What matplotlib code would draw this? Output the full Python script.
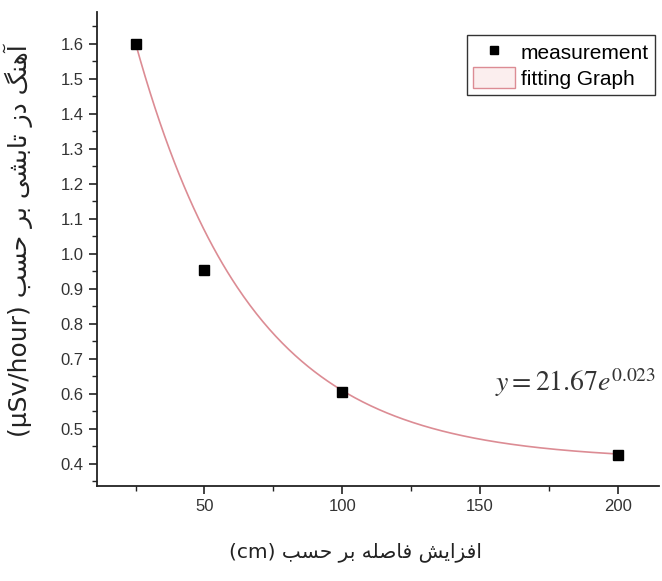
import numpy as np
import matplotlib
matplotlib.use("Agg")
import matplotlib.pyplot as plt
from matplotlib.lines import Line2D
from matplotlib.patches import Patch
from matplotlib.ticker import MultipleLocator

# measured points
distance = [25, 50, 100, 200]
dose_rate = [1.60, 0.955, 0.606, 0.426]

# fitted curve y = y0 + A*exp(-x/t)
fit_y0 = 0.41
fit_A = 2.16
fit_t = 42.0

x_title = "افزایش فاصله بر حسب"
y_title = "آهنگ دز تابشی بر حسب"
x_unit = "(cm)"
y_unit = "(µSv/hour)"
eq_text = r"$y = 21.67e^{0.023}$"

# simple arabic/persian shaping (matplotlib has no bidi)
FORMS = {
    "ا": ("\uFE8D", "\uFE8E", None, None),
    "آ": ("\uFE81", "\uFE82", None, None),
    "د": ("\uFEA9", "\uFEAA", None, None),
    "ر": ("\uFEAD", "\uFEAE", None, None),
    "ز": ("\uFEAF", "\uFEB0", None, None),
    "ب": ("\uFE8F", "\uFE90", "\uFE91", "\uFE92"),
    "ت": ("\uFE95", "\uFE96", "\uFE97", "\uFE98"),
    "ح": ("\uFEA1", "\uFEA2", "\uFEA3", "\uFEA4"),
    "س": ("\uFEB1", "\uFEB2", "\uFEB3", "\uFEB4"),
    "ش": ("\uFEB5", "\uFEB6", "\uFEB7", "\uFEB8"),
    "ص": ("\uFEB9", "\uFEBA", "\uFEBB", "\uFEBC"),
    "ف": ("\uFED1", "\uFED2", "\uFED3", "\uFED4"),
    "ل": ("\uFEDD", "\uFEDE", "\uFEDF", "\uFEE0"),
    "ن": ("\uFEE5", "\uFEE6", "\uFEE7", "\uFEE8"),
    "ه": ("\uFEE9", "\uFEEA", "\uFEEB", "\uFEEC"),
    "ی": ("\uFBFC", "\uFBFD", "\uFBFE", "\uFBFF"),
    "گ": ("\uFB92", "\uFB93", "\uFB94", "\uFB95"),
}


def dual(ch):
    return ch in FORMS and FORMS[ch][2] is not None


def rtl(text):
    out = []
    for i, ch in enumerate(text):
        if ch not in FORMS:
            out.append(ch)
            continue
        prev = text[i - 1] if i > 0 else ""
        nxt = text[i + 1] if i + 1 < len(text) else ""
        jp = dual(prev)
        jn = dual(ch) and nxt in FORMS
        iso, fin, ini, med = FORMS[ch]
        if jp and jn:
            out.append(med)
        elif jp:
            out.append(fin)
        elif jn:
            out.append(ini)
        else:
            out.append(iso)
    return "".join(out)[::-1]


plt.rcParams["font.family"] = ["Liberation Sans", "DejaVu Sans"]
plt.rcParams["mathtext.fontset"] = "stix"

fig = plt.figure(figsize=(6.62, 5.81), dpi=100)
ax = fig.add_axes([0.1465, 0.1635, 0.849, 0.8155])

xx = np.linspace(distance[0], distance[-1], 300)
yy = fit_y0 + fit_A * np.exp(-xx / fit_t)
ax.plot(xx, yy, color="#dc8c94", lw=1.2, zorder=2)
ax.plot(distance, dose_rate, "s", color="black", ms=7, zorder=3)

ax.set_xlim(11, 215)
ax.set_xticks([50, 100, 150, 200])
ax.xaxis.set_minor_locator(MultipleLocator(25))
ax.yaxis.set_minor_locator(MultipleLocator(0.05))
ax.set_yticks(np.arange(0.4, 1.61, 0.1))
ax.set_ylim(0.337, 1.69)
ax.yaxis.set_major_formatter(plt.FuncFormatter(lambda v, p: f"{v:.1f}"))

for s in ["top", "right"]:
    ax.spines[s].set_visible(False)
for s in ["left", "bottom"]:
    ax.spines[s].set_linewidth(1.3)
    ax.spines[s].set_color("#222222")
ax.tick_params(which="major", direction="out", length=6, width=1.2,
               labelsize=12, labelcolor="#333333", color="#222222")
ax.tick_params(which="minor", direction="out", length=3.5, width=1.0, color="#222222")

ax.set_xlabel(x_unit + " " + rtl(x_title), family=["DejaVu Sans"],
              fontsize=14.5, color="#222222")
ax.xaxis.set_label_coords(0.459, -0.118)
ax.set_ylabel(y_unit + " " + rtl(y_title), family=["DejaVu Sans"],
              fontsize=18, color="#222222")
ax.yaxis.set_label_coords(-0.113, 0.518)

fig.text(0.99, 0.341, eq_text, ha="right", va="center",
         fontsize=20, color="#333333")

handles = [
    Line2D([], [], marker="s", ls="none", color="black", ms=6),
    Patch(facecolor="#fbeeee", edgecolor="#dc8c94", lw=1.0),
]
leg = fig.legend(handles, ["measurement", "fitting Graph"],
                 loc="upper left", bbox_to_anchor=(0.705, 0.94),
                 fontsize=15, frameon=True, fancybox=False,
                 handlelength=2.0, handleheight=1.2, handletextpad=0.3,
                 borderpad=0.3, labelspacing=0.2, borderaxespad=0)
leg.get_frame().set_edgecolor("black")
leg.get_frame().set_linewidth(1.0)

fig.savefig("out.png", dpi=100)
